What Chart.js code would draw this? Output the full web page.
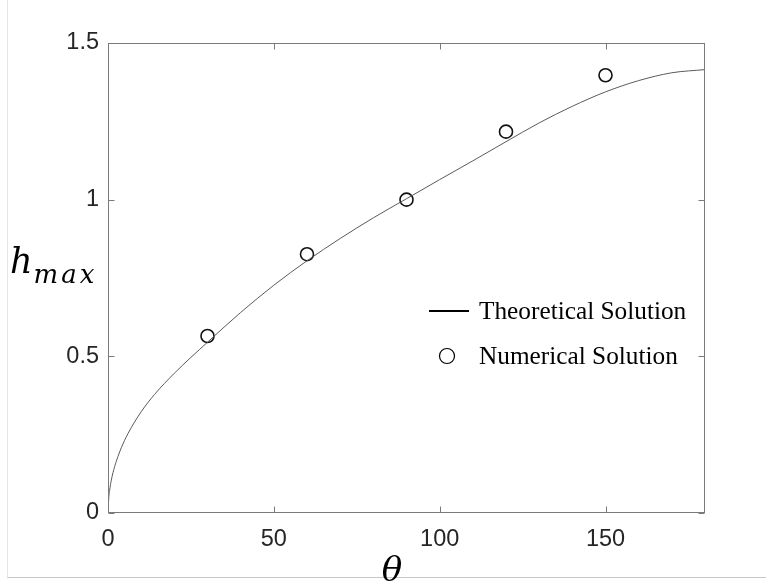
<!DOCTYPE html>
<html>
<head>
<meta charset="utf-8">
<script src="https://cdn.jsdelivr.net/npm/chart.js@4/dist/chart.umd.min.js"></script>
<style>
  html, body { margin: 0; padding: 0; background: #fff; }
  #wrap { position: relative; width: 766px; height: 588px; overflow: hidden; }
  /* faint frame of the original figure */
  #frame { position: absolute; left: 7px; top: 0; width: 780px; height: 577px;
           border-left: 1px solid #e6e6e6; border-bottom: 1px solid #c8c8c8; }
  canvas { position: absolute; left: 0; top: 0; }
</style>
</head>
<body>
<div id="wrap">
  <div id="frame"></div>
  <canvas id="chart" width="766" height="588"></canvas>
</div>
<script>
// theoretical curve
const theoryTheta = [0, 0.25, 0.5, 1, 2, 3, 4, 6, 10, 14, 20, 30, 40, 50, 60, 70, 80, 90, 100, 110, 120, 130, 140, 150, 160, 170, 180];
const theoryH = [0, 0.052, 0.073, 0.105, 0.148, 0.18, 0.208, 0.253, 0.323, 0.378, 0.446, 0.545, 0.640, 0.727, 0.805, 0.876, 0.942, 1.003, 1.064, 1.124, 1.185, 1.245, 1.298, 1.344, 1.380, 1.405, 1.415];

// numerical solution markers
const numTheta = [30, 60, 90, 120, 150];
const numH = [0.565, 0.826, 1.0, 1.217, 1.397];

// axis ticks
const xTickValues = [0, 50, 100, 150];
const xTickLabels = ['0', '50', '100', '150'];
const yTickValues = [0, 0.5, 1, 1.5];
const yTickLabels = ['0', '0.5', '1', '1.5'];

const legendLabels = ['Theoretical Solution', 'Numerical Solution'];

const axisColor = '#7a7a7a';
const tickTextColor = '#262626';

// box, inward ticks, axis titles and legend
const decorPlugin = {
    id: 'decor',
    afterDraw(chart) {
        const ctx = chart.ctx;
        const a = chart.chartArea;
        const xs = chart.scales.x, ys = chart.scales.y;
        const L = Math.round(a.left) + 0.5, R = Math.round(a.right) - 0.5;
        const T = Math.round(a.top) + 0.5, B = Math.round(a.bottom) - 0.5;

        ctx.save();
        ctx.strokeStyle = axisColor;
        ctx.lineWidth = 1;
        ctx.strokeRect(L, T, R - L, B - T);

        // inward ticks on all four sides
        const tl = 6;
        ctx.beginPath();
        xTickValues.forEach(v => {
            const px = Math.round(xs.getPixelForValue(v)) + 0.5;
            ctx.moveTo(px, B); ctx.lineTo(px, B - tl);
            ctx.moveTo(px, T); ctx.lineTo(px, T + tl);
        });
        yTickValues.forEach(v => {
            const py = Math.round(ys.getPixelForValue(v)) + 0.5;
            ctx.moveTo(L, py); ctx.lineTo(L + tl, py);
            ctx.moveTo(R, py); ctx.lineTo(R - tl, py);
        });
        ctx.stroke();

        // y title: h_max
        ctx.fillStyle = '#000';
        ctx.textBaseline = 'alphabetic';
        ctx.textAlign = 'left';
        ctx.font = 'italic 35px "DejaVu Serif"';
        ctx.fillText('h', 10, 273);
        const hw = ctx.measureText('h').width;
        ctx.font = 'italic 26px "DejaVu Serif"';
        ctx.letterSpacing = '3px';
        ctx.fillText('max', 10 + hw + 1, 283);
        ctx.letterSpacing = '0px';

        // x title: theta
        ctx.font = 'italic 34px "DejaVu Serif"';
        ctx.textAlign = 'center';
        ctx.fillText('\u03b8', 392, 581);

        // legend inside the plot
        const lx = a.right - 276, ly1 = 311, ly2 = 356;
        ctx.strokeStyle = '#000';
        ctx.lineWidth = 2;
        ctx.beginPath();
        ctx.moveTo(lx, ly1); ctx.lineTo(lx + 40, ly1);
        ctx.stroke();
        ctx.lineWidth = 1.2;
        ctx.beginPath();
        ctx.arc(lx + 18, ly2, 7.5, 0, Math.PI * 2);
        ctx.stroke();
        ctx.font = '25.3px "Liberation Serif"';
        ctx.textAlign = 'left';
        ctx.fillStyle = '#000';
        ctx.fillText(legendLabels[0], lx + 50, 319);
        ctx.fillText(legendLabels[1], lx + 50, 364);
        ctx.restore();
    }
};

new Chart(document.getElementById('chart'), {
    type: 'scatter',
    data: {
        datasets: [{
            label: legendLabels[0],
            data: theoryTheta.map((t, i) => ({ x: t, y: theoryH[i] })),
            showLine: true,
            borderColor: '#5a5a5a',
            borderWidth: 1,
            pointRadius: 0,
            cubicInterpolationMode: 'monotone',
        }, {
            label: legendLabels[1],
            data: numTheta.map((t, i) => ({ x: t, y: numH[i] })),
            showLine: false,
            pointRadius: 6.5,
            pointBorderWidth: 1.6,
            pointBorderColor: '#111',
            pointBackgroundColor: 'rgba(0,0,0,0)',
        }]
    },
    options: {
        responsive: false,
        animation: false,
        devicePixelRatio: 1,
        layout: { padding: { left: 0, right: 61, top: 43, bottom: 0 } },
        plugins: {
            legend: { display: false },
            tooltip: { enabled: false }
        },
        scales: {
            x: {
                type: 'linear',
                min: 0,
                max: 180,
                grid: { display: false, drawTicks: false },
                border: { display: false },
                afterBuildTicks: s => { s.ticks = xTickValues.map(v => ({ value: v })); },
                afterFit: s => { s.height = 75; },
                ticks: {
                    padding: 12,
                    color: tickTextColor,
                    font: { family: "'Liberation Sans', Arial, sans-serif", size: 23.5 },
                    callback: (v) => xTickLabels[xTickValues.indexOf(v)]
                }
            },
            y: {
                type: 'linear',
                min: 0,
                max: 1.5,
                grid: { display: false, drawTicks: false },
                border: { display: false },
                afterBuildTicks: s => { s.ticks = yTickValues.map(v => ({ value: v })); },
                afterFit: s => { s.width = 108; },
                ticks: {
                    padding: 9,
                    color: tickTextColor,
                    font: { family: "'Liberation Sans', Arial, sans-serif", size: 23.5 },
                    callback: (v) => yTickLabels[yTickValues.indexOf(v)]
                }
            }
        }
    },
    plugins: [decorPlugin]
});
</script>
</body>
</html>
